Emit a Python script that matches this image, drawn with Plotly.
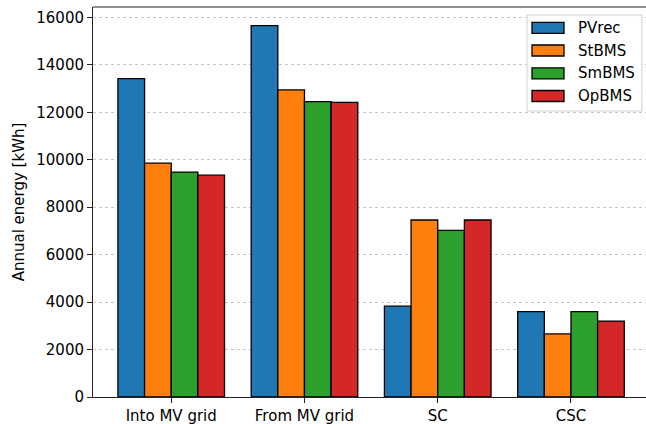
import plotly.graph_objects as go

# Annual energy flows per control strategy (kWh)
categories = ["Into MV grid", "From MV grid", "SC", "CSC"]
strategies = ["PVrec", "StBMS", "SmBMS", "OpBMS"]
pvrec = [13420, 15650, 3830, 3600]
stbms = [9860, 12940, 7460, 2660]
smbms = [9480, 12450, 7020, 3600]
opbms = [9350, 12420, 7460, 3200]
series = [pvrec, stbms, smbms, opbms]
colors = ["#1f77b4", "#ff7f0e", "#2ca02c", "#d62728"]

W, H = 646, 424
L, R, T, B = 93, 646, 7, 397   # plot area in pixels

def px(x):
    return (x - L) / (R - L)

def py(y):
    return (B - y) / (B - T)

fig = go.Figure()
for name, vals, col in zip(strategies, series, colors):
    fig.add_trace(go.Bar(
        x=categories, y=vals, name=name,
        marker=dict(color=col, line=dict(color="black", width=1.3)),
        showlegend=False,
    ))

font = dict(family="DejaVu Sans", size=15, color="black")

# top frame line
shapes = [dict(
    type="line", xref="paper", yref="paper",
    x0=0, x1=1, y0=1, y1=1,
    line=dict(color="#222222", width=1), layer="above",
)]
# legend drawn as a framed box with swatches
shapes.append(dict(
    type="rect", xref="paper", yref="paper",
    x0=px(527), x1=px(642), y0=py(111), y1=py(15),
    line=dict(color="#d0d0d0", width=1), fillcolor="rgba(255,255,255,0.85)",
    layer="above",
))
annotations = []
row_centers = [27.8, 50.5, 73.3, 96.0]
for name, col, yc in zip(strategies, colors, row_centers):
    shapes.append(dict(
        type="rect", xref="paper", yref="paper",
        x0=px(532), x1=px(564), y0=py(yc + 5.5), y1=py(yc - 5.5),
        line=dict(color="black", width=1.3), fillcolor=col, layer="above",
    ))
    annotations.append(dict(
        xref="paper", yref="paper", x=px(576), y=py(yc),
        text=name, showarrow=False, xanchor="left", yanchor="middle",
        font=font,
    ))

fig.update_layout(
    width=W, height=H,
    margin=dict(l=L, r=W - R, t=T, b=H - B, pad=0, autoexpand=False),
    paper_bgcolor="white", plot_bgcolor="white",
    barmode="group", bargap=0.2, bargroupgap=0,
    font=font,
    shapes=shapes, annotations=annotations,
    xaxis=dict(
        range=[-0.587, 3.563],
        showline=True, linecolor="#222222", linewidth=1,
        ticks="outside", ticklen=5, tickcolor="#222222",
        showgrid=False, tickfont=font,
    ),
    yaxis=dict(
        range=[0, 16437],
        tickvals=[0, 2000, 4000, 6000, 8000, 10000, 12000, 14000, 16000],
        ticktext=["0", "2000", "4000", "6000", "8000", "10000", "12000", "14000", "16000"],
        showline=True, linecolor="#222222", linewidth=1,
        ticks="outside", ticklen=5, tickcolor="#222222",
        showgrid=True, gridcolor="#c8c8c8", griddash="dot", gridwidth=1,
        zeroline=False, tickfont=font,
        title=dict(text="Annual energy [kWh]", font=font, standoff=8),
    ),
)

# static rendering: no interactive drag handles around the plot edges
fig.write_html("out.html", config={"staticPlot": True})
